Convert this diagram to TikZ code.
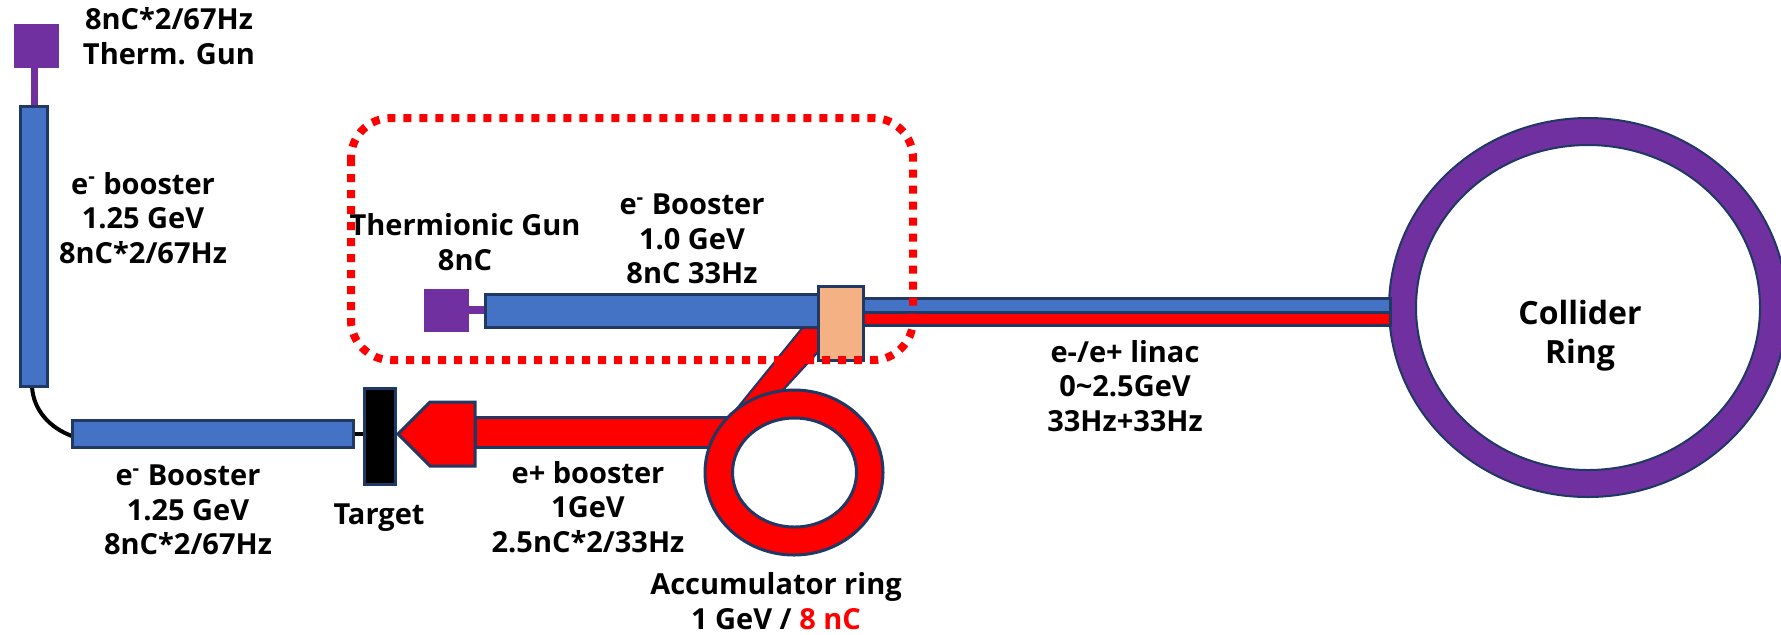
\documentclass[tikz,border=0pt]{standalone}
\usepackage{fontspec}
\setmainfont{Open Sans}
\definecolor{edge}{HTML}{1F3864}
\definecolor{bluefill}{HTML}{4472C4}
\definecolor{purp}{HTML}{7030A0}
\definecolor{tan}{HTML}{F4B183}
\tikzset{
  blk/.style={draw=edge,line width=1.5pt},
  lbl/.style={align=center,font=\fontsize{14.5}{17.3}\selectfont\bfseries,inner sep=0pt},
  dotted box/.style={draw=red,line width=4pt,dash pattern=on 4pt off 4pt}
}
\begin{document}
\begin{tikzpicture}[x=0.5pt,y=-0.5pt]
\useasboundingbox (0,0) rectangle (1781,634);
\clip (0,0) rectangle (1781,634);
% collider
\filldraw[fill=purp,draw=edge,line width=1pt,even odd rule] (1588,307.5) ellipse [x radius=199,y radius=189.5] (1588,307.5) ellipse [x radius=172,y radius=162.5];
% stems
\fill[purp] (31,68) rectangle (38,106);
\fill[purp] (469,306) rectangle (485,314);
\draw[black,line width=2pt] (32,386) .. controls (33,410) and (50,428) .. (72,436);
\draw[black,line width=2pt] (353,434) -- (364,434);
% diagonal
\filldraw[fill=red,blk,line width=1pt] (803,327) -- (730,417) -- (783,390) -- (818,352) -- (818,327) -- cycle;
\filldraw[fill=red,blk] (475,417) rectangle (730,447);
\filldraw[fill=red,blk,even odd rule] (794,472.5) ellipse [x radius=89,y radius=82.5] (794.5,472.5) ellipse [x radius=62,y radius=54.5];
\filldraw[fill=red,blk] (398,434) -- (430,402) -- (475,402) -- (475,466) -- (430,466) -- cycle;
\filldraw[fill=black,blk] (364,388) rectangle (395,484);
\filldraw[fill=bluefill,blk] (20,106) rectangle (47,386);
\filldraw[fill=bluefill,blk] (72,420) rectangle (353,447);
\filldraw[fill=bluefill,blk] (485,294) rectangle (820,327);
\filldraw[fill=bluefill,blk] (863,298) rectangle (1390,312);
\filldraw[fill=red,blk] (863,312) rectangle (1390,325);
\fill[purp] (14,24) rectangle (59,68);
\fill[purp] (424,289) rectangle (469,332);
\filldraw[fill=tan,blk] (818,286) rectangle (863,360);
\draw[dotted box,rounded corners=20pt] (351,118) rectangle (913,360);
% labels
\node[lbl] (t1) at (169,36) {8nC*2/67Hz\\Therm. Gun};
\node[lbl] (t2) at (143,218) {e\textsuperscript{-} booster\\1.25 GeV\\8nC*2/67Hz};
\node[lbl] (t3) at (188,510) {e\textsuperscript{-} Booster\\1.25 GeV\\8nC*2/67Hz};
\node[lbl] (t4) at (379,518) {Target};
\node[lbl] (t5) at (465,242) {Thermionic Gun\\8nC};
\node[lbl] (t6) at (692,239) {e\textsuperscript{-} Booster\\1.0 GeV\\8nC 33Hz};
\node[lbl] (t7) at (1125,386) {e-/e+ linac\\0\textasciitilde 2.5GeV\\33Hz+33Hz};
\node[lbl] (t8) at (588,507) {e+ booster\\1GeV\\2.5nC*2/33Hz};
\node[lbl] (t9) at (776,601) {Accumulator ring\\1 GeV / \textcolor{red}{8 nC}};
\node[lbl,font=\fontsize{16}{19.5}\selectfont\bfseries] (t10) at (1580,336) {Collider\\Ring};
\end{tikzpicture}
\end{document}
